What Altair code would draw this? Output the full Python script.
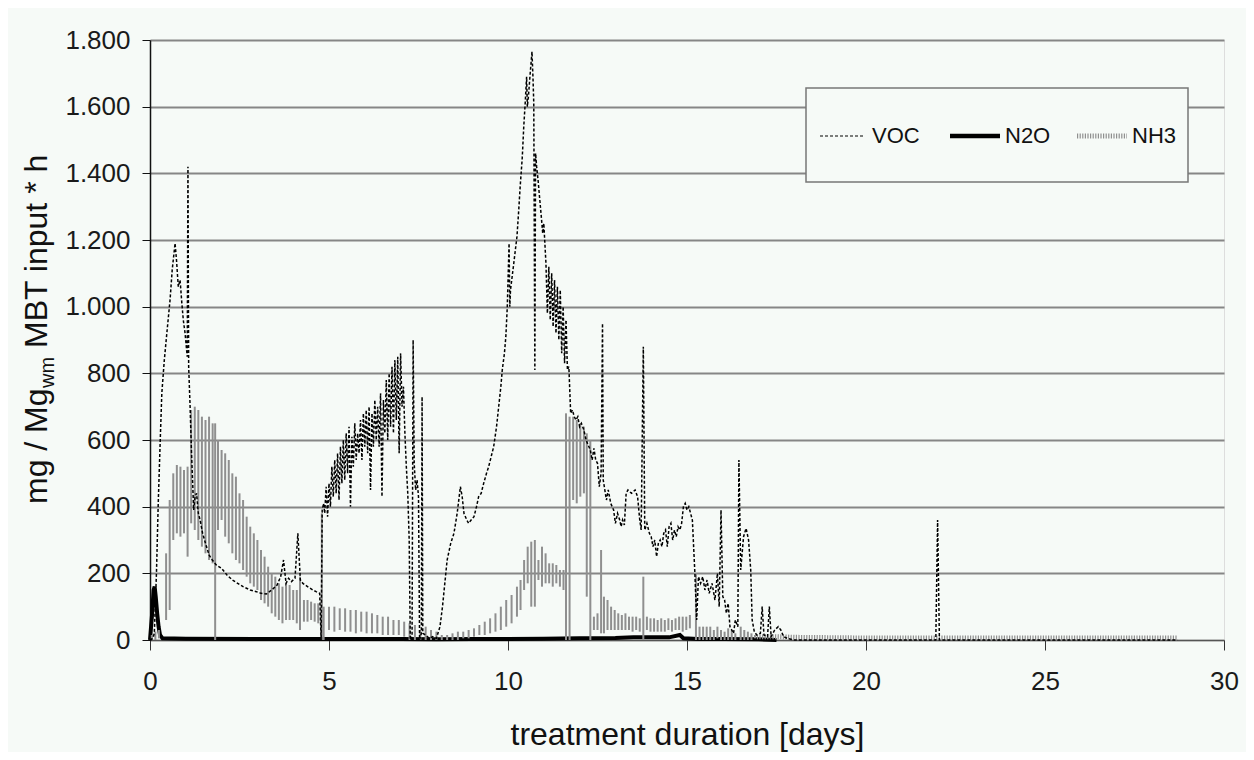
import altair as alt
import pandas as pd

# ---------------- data ----------------
# VOC (thin dashed black line): (day, mg / Mg_wm MBT input * h)
voc_points = [
    (0.00, 0), (0.08, 5), (0.12, 20), (0.18, 200), (0.23, 410), (0.28, 580), (0.33, 740),
    (0.40, 840), (0.47, 920), (0.56, 1020), (0.62, 1110), (0.66, 1150), (0.70, 1190),
    (0.74, 1140), (0.79, 1060), (0.84, 1080), (0.89, 1010), (0.93, 960), (0.98, 920),
    (1.04, 850), (1.06, 1420), (1.08, 820), (1.12, 700), (1.16, 560), (1.22, 390),
    (1.26, 430), (1.30, 440), (1.35, 380), (1.40, 360), (1.47, 320), (1.55, 290),
    (1.65, 255), (1.74, 240), (1.85, 225), (2.00, 215), (2.15, 195), (2.30, 180),
    (2.45, 170), (2.60, 160), (2.80, 150), (2.97, 145), (3.10, 140), (3.25, 138),
    (3.40, 150), (3.55, 165), (3.65, 190), (3.73, 240), (3.80, 170), (3.87, 185),
    (3.95, 175), (4.05, 185), (4.13, 320), (4.20, 180), (4.27, 170), (4.40, 160),
    (4.55, 150), (4.64, 145), (4.74, 140), (4.78, 0), (4.81, 390), (4.85, 410),
    (4.88, 380), (4.92, 460), (4.96, 370), (5.00, 470), (5.04, 400), (5.08, 520),
    (5.12, 430), (5.16, 540), (5.20, 440), (5.24, 560), (5.28, 420), (5.32, 580),
    (5.36, 470), (5.40, 600), (5.44, 480), (5.48, 620), (5.52, 500), (5.56, 640),
    (5.60, 400), (5.64, 610), (5.68, 520), (5.72, 650), (5.76, 540), (5.80, 620),
    (5.84, 560), (5.88, 660), (5.92, 540), (5.96, 680), (6.00, 580), (6.04, 690),
    (6.08, 560), (6.12, 700), (6.16, 450), (6.20, 680), (6.24, 580), (6.28, 720),
    (6.32, 600), (6.36, 700), (6.40, 580), (6.44, 740), (6.48, 430), (6.52, 720),
    (6.56, 620), (6.60, 780), (6.64, 600), (6.68, 800), (6.72, 640), (6.76, 820),
    (6.80, 620), (6.84, 840), (6.88, 660), (6.92, 850), (6.96, 560), (7.00, 860),
    (7.04, 700), (7.08, 760), (7.12, 620), (7.16, 520), (7.20, 440), (7.24, 300),
    (7.27, 0), (7.32, 10), (7.35, 900), (7.38, 530), (7.42, 450), (7.46, 480),
    (7.50, 430), (7.53, 0), (7.58, 20), (7.60, 730), (7.62, 20), (7.70, 15), (7.80, 5),
    (7.90, 10), (8.00, 5), (8.10, 40), (8.17, 100), (8.30, 240), (8.40, 290),
    (8.49, 320), (8.58, 380), (8.67, 460), (8.72, 430), (8.77, 380), (8.85, 360),
    (8.90, 350), (8.97, 360), (9.05, 370), (9.12, 400), (9.18, 430), (9.25, 440),
    (9.32, 470), (9.40, 500), (9.46, 520), (9.53, 550), (9.60, 580), (9.68, 640),
    (9.74, 700), (9.80, 760), (9.84, 810), (9.90, 860), (9.94, 910), (9.98, 1000),
    (10.03, 1190), (10.05, 1000), (10.07, 1050), (10.15, 1120), (10.25, 1210),
    (10.30, 1290), (10.34, 1360), (10.40, 1450), (10.44, 1540), (10.48, 1610),
    (10.52, 1690), (10.54, 1600), (10.57, 1630), (10.62, 1700), (10.67, 1765),
    (10.70, 1680), (10.72, 1610), (10.75, 810), (10.77, 1460), (10.80, 1420),
    (10.84, 1380), (10.88, 1330), (10.93, 1270), (10.97, 1220), (11.00, 1250),
    (11.03, 1190), (11.06, 1130), (11.10, 980), (11.14, 1120), (11.18, 960),
    (11.22, 1100), (11.26, 940), (11.30, 1080), (11.34, 920), (11.38, 1060),
    (11.42, 900), (11.46, 1050), (11.50, 860), (11.54, 1000), (11.58, 830),
    (11.62, 960), (11.66, 810), (11.70, 820), (11.75, 680), (11.80, 690),
    (11.85, 670), (11.90, 660), (11.95, 670), (12.00, 640), (12.05, 650),
    (12.12, 630), (12.18, 600), (12.22, 590), (12.30, 570), (12.35, 540),
    (12.40, 575), (12.45, 540), (12.50, 530), (12.55, 460), (12.60, 500),
    (12.64, 950), (12.66, 480), (12.69, 460), (12.75, 420), (12.80, 450),
    (12.87, 410), (12.95, 390), (13.00, 350), (13.06, 380), (13.12, 360),
    (13.16, 340), (13.20, 360), (13.25, 345), (13.30, 440), (13.35, 450),
    (13.45, 440), (13.55, 450), (13.62, 430), (13.68, 360), (13.72, 330),
    (13.78, 880), (13.82, 330), (13.88, 350), (13.95, 320), (14.00, 310),
    (14.05, 280), (14.10, 300), (14.15, 250), (14.20, 290), (14.25, 300),
    (14.30, 280), (14.35, 320), (14.40, 330), (14.45, 280), (14.50, 340),
    (14.55, 350), (14.60, 300), (14.65, 330), (14.70, 310), (14.75, 340),
    (14.80, 330), (14.85, 350), (14.90, 400), (14.95, 410), (15.00, 390),
    (15.05, 400), (15.10, 380), (15.15, 360), (15.22, 200), (15.27, 60),
    (15.32, 190), (15.38, 170), (15.44, 190), (15.50, 150), (15.56, 180),
    (15.62, 140), (15.70, 170), (15.78, 120), (15.85, 200), (15.90, 100),
    (15.95, 390), (16.00, 130), (16.05, 120), (16.10, 80), (16.15, 110),
    (16.20, 40), (16.30, 20), (16.35, 60), (16.42, 40), (16.45, 540), (16.50, 210),
    (16.58, 310), (16.65, 335), (16.72, 300), (16.78, 210), (16.82, 60),
    (16.88, 25), (16.95, 15), (17.05, 20), (17.10, 100), (17.15, 15), (17.25, 10),
    (17.30, 100), (17.35, 10), (17.45, 30), (17.55, 40), (17.62, 30), (17.70, 10),
    (17.80, 5), (18.00, 0), (21.95, 0), (22.00, 360), (22.05, 0), (28.70, 0),
]

# N2O (thick black line)
n2o_points = [
    (0.00, 0), (0.03, 40), (0.06, 80), (0.10, 150), (0.13, 160), (0.16, 130),
    (0.20, 80), (0.24, 40), (0.28, 15), (0.35, 5), (1.0, 4), (3.0, 3), (5.0, 3),
    (7.0, 3), (8.0, 2), (9.0, 3), (10.0, 3), (11.0, 4), (12.0, 5), (13.0, 6),
    (13.5, 8), (14.0, 8), (14.5, 8), (14.8, 15), (14.9, 5), (15.3, 3), (16.0, 3),
    (17.0, 2), (17.5, 0),
]

# NH3 (grey, strongly oscillating): (day, low, high) of each swing
nh3_bars = [
    (0.05, 0, 15), (0.15, 0, 25), (0.25, 5, 30), (0.45, 60, 260), (0.55, 90, 420),
    (0.65, 300, 500), (0.75, 320, 525), (0.85, 310, 520), (0.95, 320, 510),
    (1.05, 250, 520), (1.15, 350, 690), (1.25, 330, 700), (1.35, 300, 690),
    (1.45, 280, 670), (1.55, 260, 660), (1.65, 240, 670), (1.75, 230, 650),
    (1.82, 0, 650), (1.90, 330, 600), (2.00, 360, 570), (2.10, 310, 560),
    (2.20, 290, 540), (2.30, 260, 500), (2.40, 240, 490), (2.50, 230, 440),
    (2.60, 210, 420), (2.70, 190, 370), (2.80, 170, 340), (2.90, 160, 320),
    (3.00, 150, 300), (3.10, 120, 270), (3.20, 110, 250), (3.30, 100, 220),
    (3.40, 80, 200), (3.50, 70, 190), (3.60, 60, 170), (3.70, 50, 160),
    (3.80, 60, 170), (3.90, 60, 165), (4.00, 60, 150), (4.10, 50, 150),
    (4.19, 30, 190), (4.30, 55, 120), (4.40, 55, 120), (4.50, 60, 115),
    (4.60, 55, 110), (4.70, 50, 110), (4.80, 0, 380), (4.85, 0, 100),
    (5.00, 30, 100), (5.15, 25, 100), (5.30, 30, 95), (5.45, 25, 95), (5.60, 25, 90),
    (5.75, 20, 90), (5.90, 25, 85), (6.05, 20, 85), (6.20, 20, 80), (6.35, 20, 75),
    (6.50, 15, 70), (6.65, 15, 70), (6.80, 15, 60), (6.95, 15, 60), (7.10, 10, 55),
    (7.25, 0, 50), (7.40, 0, 45), (7.55, 0, 30), (7.70, 0, 40), (7.85, 0, 30),
    (8.00, 0, 25), (8.15, 0, 15), (8.30, 0, 15), (8.45, 0, 20), (8.60, 0, 25),
    (8.75, 5, 25), (8.90, 5, 30), (9.05, 10, 35), (9.20, 15, 45), (9.35, 15, 55),
    (9.50, 20, 65), (9.65, 25, 80), (9.80, 30, 100), (9.95, 40, 120),
    (10.10, 50, 135), (10.25, 70, 160), (10.35, 90, 180), (10.45, 150, 240),
    (10.55, 170, 280), (10.65, 100, 295), (10.75, 100, 300), (10.85, 180, 240),
    (10.95, 160, 280), (11.05, 170, 260), (11.15, 170, 230), (11.25, 160, 230),
    (11.35, 170, 225), (11.45, 160, 210), (11.55, 150, 210), (11.62, 0, 680),
    (11.72, 0, 670), (11.82, 420, 670), (11.92, 410, 660), (12.02, 430, 650),
    (12.12, 440, 640), (12.20, 130, 620), (12.30, 0, 600), (12.40, 30, 70),
    (12.50, 30, 80), (12.60, 20, 270), (12.68, 20, 130), (12.78, 30, 120),
    (12.88, 30, 100), (12.98, 30, 90), (13.08, 30, 80), (13.18, 30, 75),
    (13.28, 30, 80), (13.38, 30, 70), (13.48, 25, 70), (13.58, 30, 70),
    (13.68, 25, 65), (13.78, 0, 190), (13.88, 30, 70), (13.98, 25, 65),
    (14.08, 25, 65), (14.18, 25, 60), (14.28, 25, 65), (14.38, 25, 60),
    (14.48, 30, 65), (14.58, 25, 60), (14.68, 30, 65), (14.78, 30, 70),
    (14.88, 25, 70), (14.98, 30, 70), (15.08, 35, 75), (15.25, 0, 200),
    (15.35, 0, 40), (15.45, 0, 40), (15.55, 0, 40), (15.65, 0, 40), (15.75, 0, 30),
    (15.85, 5, 40), (15.95, 0, 30), (16.05, 0, 25), (16.15, 0, 35), (16.25, 0, 30),
    (16.35, 0, 20), (16.50, 0, 40), (16.60, 0, 30), (16.70, 0, 25), (16.80, 0, 20),
    (16.90, 5, 15),
]

# NH3 tail (low, almost flat hatched line)
nh3_tail = [
    (16.95, 10), (17.5, 10), (18.0, 8), (19.0, 7), (20.0, 6), (22.0, 6), (24.0, 6),
    (26.0, 6), (28.7, 6),
]

series_names = ["VOC", "N2O", "NH3"]
y_ticks = [0, 200, 400, 600, 800, 1000, 1200, 1400, 1600, 1800]
x_ticks = [0, 5, 10, 15, 20, 25, 30]

# ---------------- tables ----------------
df_voc = pd.DataFrame(voc_points, columns=["day", "value"])
df_n2o = pd.DataFrame(n2o_points, columns=["day", "value"])
df_nh3 = pd.DataFrame(nh3_bars, columns=["day", "low", "high"])
df_tail = pd.DataFrame(nh3_tail, columns=["day", "value"])
one = pd.DataFrame({"k": [0]})

BG = "#f6faf7"
FONT = "Liberation Sans"

xscale = alt.Scale(domain=[0, 30], nice=False, zero=False)
yscale = alt.Scale(domain=[0, 1800], nice=False)

xaxis = alt.Axis(
    title="treatment duration [days]", values=x_ticks, grid=False,
    labelFontSize=26, labelFont=FONT, labelColor="#1a1a1a", labelPadding=18,
    labelFlush=False, tickSize=10, tickColor="#333333", domainColor="#555555",
    titleFontSize=32, titleFont=FONT, titleFontWeight="normal", titleColor="#111111",
    titleY=104, titleBaseline="alphabetic",
)
yaxis = alt.Axis(
    title=None, values=y_ticks,
    labelExpr="replace(format(datum.value, ','), ',', '.')",
    labelFontSize=26, labelFont=FONT, labelColor="#1a1a1a", labelPadding=12,
    tickSize=8, tickColor="#111111", domainColor="#111111", domainWidth=1.5,
    grid=True, gridColor="#868686", gridWidth=2,
)

X = alt.X("day:Q", scale=xscale, axis=xaxis)

n2o = alt.Chart(df_n2o).mark_line(color="#000000", strokeWidth=4).encode(
    x=X, y=alt.Y("value:Q", scale=yscale, axis=yaxis)
)
nh3 = alt.Chart(df_nh3).mark_rule(color="#8f8f8f", strokeWidth=2).encode(
    x=X, y=alt.Y("low:Q", scale=yscale, axis=yaxis), y2="high:Q"
)
tail = alt.Chart(df_tail).mark_line(color="#8f8f8f", strokeWidth=5, strokeDash=[1.2, 1.4]).encode(
    x=X, y=alt.Y("value:Q", scale=yscale, axis=yaxis)
)
voc = alt.Chart(df_voc).mark_line(color="#000000", strokeWidth=1.5, strokeDash=[3, 2]).encode(
    x=X, y=alt.Y("value:Q", scale=yscale, axis=yaxis)
)

# legend box and entries
box = alt.Chart(one).mark_rect(fill=BG, stroke="#777777", strokeWidth=1.5).encode(
    x=alt.value(656), x2=alt.value(1038), y=alt.value(48), y2=alt.value(142)
)
leg_y = 96
leg_voc = alt.Chart(one).mark_rule(color="#000000", strokeWidth=1.2, strokeDash=[3, 2]).encode(
    x=alt.value(670), x2=alt.value(715), y=alt.value(leg_y)
)
leg_n2o = alt.Chart(one).mark_rule(color="#000000", strokeWidth=4.5).encode(
    x=alt.value(800), x2=alt.value(850), y=alt.value(leg_y)
)
leg_nh3 = alt.Chart(one).mark_rule(color="#8f8f8f", strokeWidth=5, strokeDash=[1.2, 1.4]).encode(
    x=alt.value(927), x2=alt.value(977), y=alt.value(leg_y)
)
leg_texts = []
for label, lx in zip(series_names, [722, 855, 982]):
    leg_texts.append(
        alt.Chart(one).mark_text(
            align="left", baseline="middle", fontSize=22, font=FONT, color="#111111"
        ).encode(x=alt.value(lx), y=alt.value(leg_y), text=alt.value(label))
    )

# y-axis title with subscript (three text pieces)
ytitle_main = alt.Chart(one).mark_text(
    angle=270, align="left", baseline="alphabetic", fontSize=32, font=FONT, color="#111111"
).encode(x=alt.value(-103), y=alt.value(464), text=alt.value("mg / Mg"))
ytitle_sub = alt.Chart(one).mark_text(
    angle=270, align="left", baseline="alphabetic", fontSize=20, font=FONT, color="#111111"
).encode(x=alt.value(-96), y=alt.value(348), text=alt.value("wm"))
ytitle_rest = alt.Chart(one).mark_text(
    angle=270, align="left", baseline="alphabetic", fontSize=32, font=FONT, color="#111111"
).encode(x=alt.value(-103), y=alt.value(308), text=alt.value("MBT input * h"))

chart = alt.layer(
    n2o, nh3, tail, voc, box, leg_voc, leg_n2o, leg_nh3, *leg_texts,
    ytitle_main, ytitle_sub, ytitle_rest,
).properties(
    width=1074, height=600,
    padding={"left": 142, "top": 32, "right": 22, "bottom": 112},
    autosize=alt.AutoSizeParams(type="none"),
    background=BG,
).configure_view(
    stroke="#777777", strokeWidth=1.5
).configure(
    font=FONT
)

chart.save("out.html", embed_options={"renderer": "svg", "actions": False})
